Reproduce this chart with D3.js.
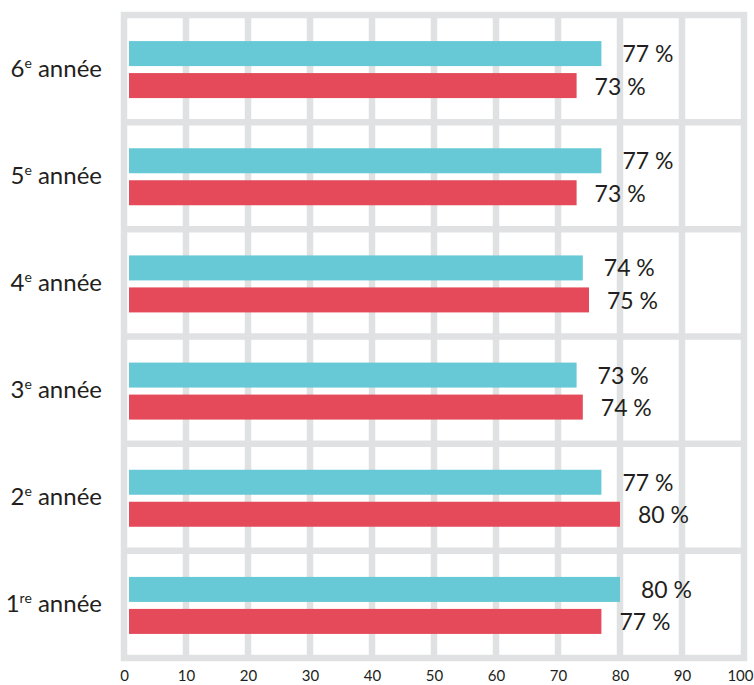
<!DOCTYPE html>
<html>
<head>
<meta charset="utf-8">
<script src="https://cdn.jsdelivr.net/npm/d3@7"></script>
<style>
  body { margin: 0; background: #fff; }
  text { font-family: Lato, "Liberation Sans", sans-serif; fill: #231f20; }
</style>
</head>
<body>
<svg class="chart"></svg>
<script>
// grades, top to bottom
var grades = ["6", "5", "4", "3", "2", "1"];
var gradeSup = ["e", "e", "e", "e", "e", "re"];
var seriesTop = [77, 77, 74, 73, 77, 80];    // cyan bars
var seriesBottom = [73, 73, 75, 74, 80, 77]; // red bars
var ticks = [0, 10, 20, 30, 40, 50, 60, 70, 80, 90, 100];

var width = 754;
var height = 685;
var barH = 25;
var barGap = 7;

var svg = d3.select(".chart")
    .attr("width", width)
    .attr("height", height);

var x = d3.scaleLinear()
    .domain([0, 100])
    .range([124, 744]);

var y = d3.scaleBand()
    .domain(grades)
    .range([15, 658]);

var gridColor = "#e0e1e3";

// vertical grid
svg.append("g")
    .selectAll("line")
    .data(ticks)
    .enter().append("line")
    .attr("x1", function(d) { return x(d); })
    .attr("x2", function(d) { return x(d); })
    .attr("y1", y.range()[0] - 3)
    .attr("y2", y.range()[1] + 3)
    .attr("stroke", gridColor)
    .attr("stroke-width", 6.5);

// horizontal grid (band edges)
var edges = grades.map(function(g) { return y(g); }).concat([y.range()[1]]);
svg.append("g")
    .selectAll("line")
    .data(edges)
    .enter().append("line")
    .attr("x1", x(0) - 3)
    .attr("x2", x(100) + 3)
    .attr("y1", function(d) { return d; })
    .attr("y2", function(d) { return d; })
    .attr("stroke", gridColor)
    .attr("stroke-width", 6.5);

var rows = grades.map(function(g, i) {
    return { grade: g, sup: gradeSup[i], top: seriesTop[i], bottom: seriesBottom[i] };
});

var row = svg.append("g")
    .selectAll("g")
    .data(rows)
    .enter().append("g")
    .attr("transform", function(d) {
        return "translate(0," + (y(d.grade) + y.bandwidth() / 2 + 1) + ")";
    });

row.append("rect")
    .attr("x", x(0) + 5)
    .attr("y", -barH - barGap / 2)
    .attr("width", function(d) { return x(d.top) - x(0) - 5; })
    .attr("height", barH)
    .attr("fill", "#68c9d6");

row.append("rect")
    .attr("x", x(0) + 5)
    .attr("y", barGap / 2)
    .attr("width", function(d) { return x(d.bottom) - x(0) - 5; })
    .attr("height", barH)
    .attr("fill", "#e44a59");

row.append("text")
    .attr("x", function(d) { return x(d.top) + 21; })
    .attr("y", -barH / 2 - barGap / 2 + 8.5)
    .style("font-size", "23px")
    .text(function(d) { return d.top + " %"; });

row.append("text")
    .attr("x", function(d) { return x(d.bottom) + 18; })
    .attr("y", barH / 2 + barGap / 2 + 9)
    .style("font-size", "23px")
    .text(function(d) { return d.bottom + " %"; });

// category labels with superscript
var lab = row.append("text")
    .attr("x", 102)
    .attr("y", 7)
    .attr("text-anchor", "end")
    .style("font-size", "24px");
lab.append("tspan").text(function(d) { return d.grade; });
lab.append("tspan")
    .attr("dy", -9)
    .style("font-size", "14px")
    .text(function(d) { return d.sup; });
lab.append("tspan")
    .attr("dy", 9)
    .text(" année");

// x axis labels
var axis = svg.append("g")
    .attr("transform", "translate(0,670)")
    .call(d3.axisBottom(x).tickValues(ticks).tickSize(0).tickPadding(0));
axis.select(".domain").remove();
axis.selectAll("text")
    .attr("dy", "0.75em")
    .style("font-family", "Lato, 'Liberation Sans', sans-serif")
    .style("font-size", "15px")
    .style("fill", "#231f20");
// keep the last label inside the frame
axis.selectAll("text")
    .filter(function(d) { return d === 100; })
    .attr("text-anchor", "end")
    .attr("x", 9);
</script>
</body>
</html>
